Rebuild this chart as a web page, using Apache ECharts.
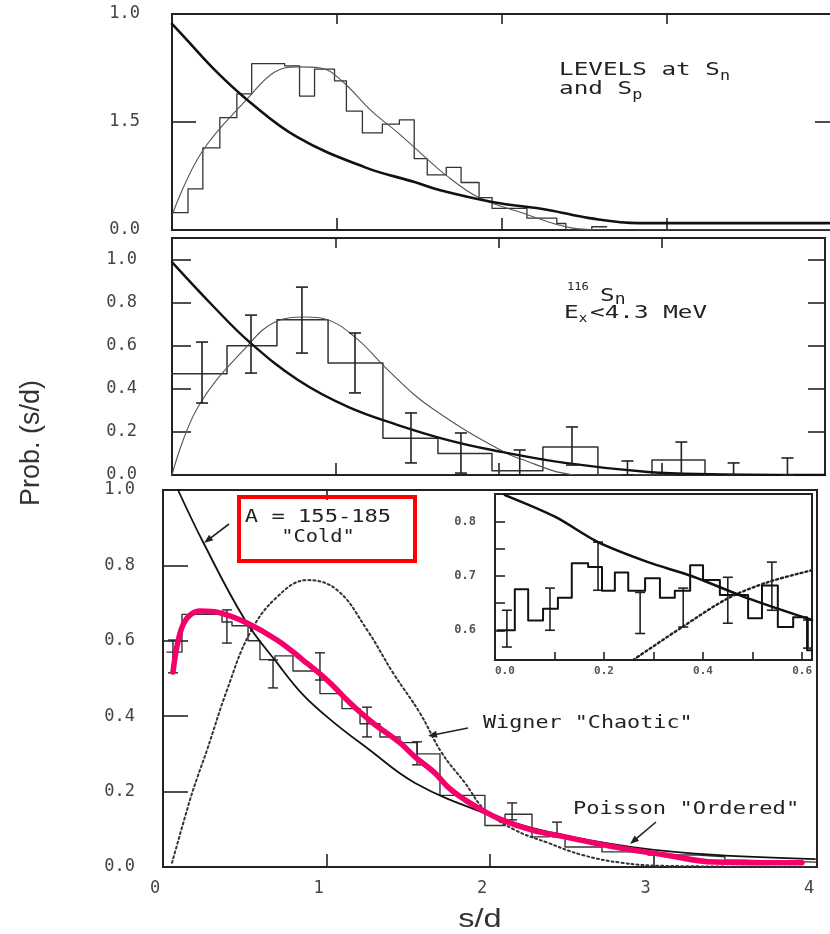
<!DOCTYPE html>
<html>
<head>
<meta charset="utf-8">
<script src="https://cdn.jsdelivr.net/npm/echarts@6/dist/echarts.min.js"></script>
<style>html,body{margin:0;padding:0;background:#fff}#c{width:830px;height:934px}</style>
</head>
<body>
<div id="c"></div>
<script>
// ---------- Panel 1: LEVELS at Sn and Sp ----------
const p1HistEdges = [0, 0.097, 0.187, 0.29, 0.393, 0.483, 0.683, 0.773, 0.864, 0.985, 1.057, 1.154, 1.275, 1.378, 1.468, 1.547, 1.662, 1.752, 1.861, 1.94, 2.054, 2.151, 2.332, 2.387, 2.544, 2.634];
const p1HistVals = [0.08, 0.19, 0.38, 0.52, 0.63, 0.77, 0.76, 0.62, 0.745, 0.69, 0.55, 0.45, 0.49, 0.51, 0.33, 0.255, 0.29, 0.22, 0.15, 0.10, 0.10, 0.055, 0.03, 0.0, 0.015];
const p1PoissonX = [0, 0.09, 0.26, 0.46, 0.76, 1.17, 1.47, 1.62, 1.94, 2.28, 2.53, 2.83, 3.07, 3.5, 4.0];
const p1PoissonY = [0.954, 0.88, 0.74, 0.60, 0.43, 0.29, 0.222, 0.185, 0.13, 0.093, 0.055, 0.032, 0.032, 0.032, 0.032];
const p1WignerX = [0.006, 0.18, 0.46, 0.62, 0.76, 0.9, 1.03, 1.21, 1.37, 1.53, 1.65, 1.86, 2.12, 2.42, 2.63, 4.0];
const p1WignerY = [0.08, 0.36, 0.61, 0.73, 0.755, 0.75, 0.69, 0.55, 0.45, 0.34, 0.26, 0.15, 0.08, 0.01, 0.0, 0.0];
const p1YTicks = [0, 0.5, 1.0];
const p1YLabels = ['0.0', '1.5', '1.0'];

// ---------- Panel 2: 116Sn, Ex<4.3 MeV ----------
const p2HistEdges = [0, 0.337, 0.643, 0.956, 1.292, 1.629, 1.96, 2.272, 2.609, 2.94, 3.265, 4.0];
const p2HistVals = [0.47, 0.60, 0.72, 0.52, 0.17, 0.10, 0.02, 0.13, 0.0, 0.07, 0.0];
const p2ErrX = [0.184, 0.484, 0.796, 1.121, 1.464, 1.77, 2.13, 2.45, 2.79, 3.12, 3.44, 3.77];
const p2ErrLo = [0.334, 0.473, 0.566, 0.381, 0.056, 0.009, 0.0, 0.046, 0.0, 0.0, 0.0, 0.0];
const p2ErrHi = [0.617, 0.742, 0.872, 0.659, 0.288, 0.195, 0.116, 0.223, 0.065, 0.153, 0.056, 0.079];
const p2PoissonX = [0, 0.263, 0.478, 0.772, 1.078, 1.384, 1.691, 1.96, 2.407, 2.916, 3.3, 4.0];
const p2PoissonY = [0.988, 0.775, 0.615, 0.441, 0.316, 0.232, 0.162, 0.116, 0.056, 0.014, 0.004, 0.0];
const p2WignerX = [0, 0.159, 0.466, 0.631, 0.815, 0.937, 1.121, 1.305, 1.488, 1.593, 1.795, 1.979, 2.101, 2.51, 4.0];
const p2WignerY = [0, 0.316, 0.603, 0.71, 0.733, 0.724, 0.64, 0.501, 0.37, 0.31, 0.209, 0.13, 0.084, 0.0, 0.0];
const p2YTicks = [0, 0.2, 0.4, 0.6, 0.8, 1.0];
const p2YLabels = ['0.0', '0.2', '0.4', '0.6', '0.8', '1.0'];

// ---------- Panel 3: A = 155-185 "Cold" ----------
const p3HistEdges = [0.024, 0.116, 0.226, 0.361, 0.422, 0.52, 0.593, 0.685, 0.795, 0.96, 1.095, 1.205, 1.327, 1.45, 1.554, 1.694, 1.969, 2.092, 2.257, 2.355, 2.459, 2.685, 2.966, 3.272, 3.437, 3.547, 4.0];
const p3HistVals = [0.57, 0.67, 0.67, 0.65, 0.64, 0.60, 0.55, 0.56, 0.52, 0.46, 0.42, 0.38, 0.345, 0.33, 0.30, 0.19, 0.11, 0.14, 0.08, 0.085, 0.053, 0.04, 0.032, 0.027, 0.018, 0.013];
const p3ErrX = [0.061, 0.391, 0.673, 0.96, 1.248, 1.554, 2.135, 2.41];
const p3ErrLo = [0.515, 0.594, 0.475, 0.496, 0.345, 0.271, 0.125, 0.080];
const p3ErrHi = [0.602, 0.682, 0.549, 0.568, 0.424, 0.332, 0.170, 0.119];
const p3PoissonX = [0.092, 0.245, 0.502, 0.70, 0.86, 1.04, 1.25, 1.541, 1.969, 2.355, 2.869, 3.376, 3.988];
const p3PoissonY = [1.0, 0.862, 0.655, 0.54, 0.455, 0.385, 0.315, 0.223, 0.143, 0.093, 0.053, 0.032, 0.021];
const p3WignerX = [0.055, 0.165, 0.208, 0.269, 0.391, 0.532, 0.697, 0.881, 1.064, 1.248, 1.407, 1.572, 1.706, 1.847, 1.969, 2.153, 2.355, 2.563, 2.807, 3.07, 4.0];
const p3WignerY = [0.011, 0.178, 0.235, 0.31, 0.469, 0.621, 0.716, 0.761, 0.735, 0.629, 0.515, 0.408, 0.302, 0.223, 0.151, 0.098, 0.064, 0.032, 0.011, 0.003, 0.0];
const fitX = [0.061, 0.09, 0.125, 0.17, 0.226, 0.349, 0.514, 0.697, 0.856, 1.003, 1.144, 1.284, 1.45, 1.541, 1.664, 1.743, 1.847, 1.951, 2.073, 2.257, 2.459, 2.765, 3.07, 3.376, 3.682, 3.908];
const fitY = [0.517, 0.595, 0.645, 0.67, 0.679, 0.674, 0.647, 0.602, 0.549, 0.496, 0.435, 0.382, 0.329, 0.292, 0.249, 0.212, 0.178, 0.151, 0.125, 0.098, 0.080, 0.053, 0.032, 0.013, 0.011, 0.011];
const p3XTicks = [0, 1, 2, 3, 4];
const p3XLabels = ['0', '1', '2', '3', '4'];
const p3YTicks = [0, 0.2, 0.4, 0.6, 0.8, 1.0];
const p3YLabels = ['0.0', '0.2', '0.4', '0.6', '0.8', '1.0'];

// ---------- Inset ----------
const insHistEdges = [-0.015, 0.02, 0.047, 0.077, 0.107, 0.135, 0.168, 0.196, 0.222, 0.249, 0.283, 0.313, 0.343, 0.374, 0.4, 0.434, 0.461, 0.491, 0.519, 0.551, 0.582, 0.61, 0.62];
const insHistVals = [0.60, 0.676, 0.618, 0.64, 0.66, 0.724, 0.717, 0.673, 0.707, 0.673, 0.696, 0.66, 0.673, 0.72, 0.693, 0.665, 0.665, 0.622, 0.683, 0.606, 0.624, 0.563];
const insErrX = [0.004, 0.091, 0.188, 0.273, 0.36, 0.45, 0.539, 0.612];
const insErrLo = [0.569, 0.60, 0.674, 0.594, 0.606, 0.613, 0.637, 0.567];
const insErrHi = [0.637, 0.678, 0.763, 0.67, 0.678, 0.698, 0.726, 0.619];
const insPoissonX = [0.0, 0.101, 0.188, 0.289, 0.378, 0.491, 0.62];
const insPoissonY = [0.85, 0.81, 0.763, 0.726, 0.70, 0.659, 0.619];
const insWignerX = [0.259, 0.358, 0.45, 0.531, 0.62];
const insWignerY = [0.545, 0.606, 0.659, 0.689, 0.711];
const insXTicks = [0, 0.2, 0.4, 0.6];
const insXLabels = ['0.0', '0.2', '0.4', '0.6'];
const insYTicks = [0.6, 0.7, 0.8];
const insYLabels = ['0.6', '0.7', '0.8'];

// ---------- helpers ----------
const mono = '"DejaVu Sans Mono", monospace';
const ink = '#222';
function steps(edges, vals) {
  const d = [];
  for (let i = 0; i < vals.length; i++) { d.push([edges[i], vals[i]]); d.push([edges[i + 1], vals[i]]); }
  return d;
}
function pairs(xs, ys) { return xs.map((x, i) => [x, ys[i]]); }
function fmt(vals, texts) {
  return v => { const i = vals.findIndex(t => Math.abs(t - v) < 1e-6); return i >= 0 ? texts[i] : ''; };
}
function axis(gi, min, max, pos, ticks, len, labVals, labTexts, fs, margin, z, extraLabel) {
  return {
    type: 'value', gridIndex: gi, min: min, max: max, position: pos, z: z || 0,
    axisLine: { show: false, onZero: false }, splitLine: { show: false },
    axisTick: { show: ticks.length > 0, inside: true, length: len, customValues: ticks, lineStyle: { color: ink, width: 1.6 } },
    axisLabel: Object.assign({ show: labVals.length > 0, customValues: labVals, formatter: fmt(labVals, labTexts),
      fontFamily: mono, fontSize: fs, color: '#444', margin: margin }, extraLabel || {})
  };
}
function lineS(xi, yi, data, color, width, type, smooth, z) {
  return { type: 'line', xAxisIndex: xi, yAxisIndex: yi, data: data, showSymbol: false, symbol: 'none',
    smooth: smooth, silent: true, z: z || 2, clip: true,
    lineStyle: { color: color, width: width, type: type, cap: 'round', join: 'round' } };
}
function errS(xi, yi, xs, lo, hi, cap, width, z) {
  return {
    type: 'custom', xAxisIndex: xi, yAxisIndex: yi, z: z || 3, silent: true,
    data: xs.map((x, i) => [x, lo[i], hi[i]]),
    encode: { x: 0, y: [1, 2] },
    renderItem: function (params, api) {
      const x = api.value(0), a = api.coord([x, api.value(1)]), b = api.coord([x, api.value(2)]);
      const st = { stroke: ink, lineWidth: width };
      return { type: 'group', children: [
        { type: 'line', shape: { x1: a[0], y1: a[1], x2: b[0], y2: b[1] }, style: st },
        { type: 'line', shape: { x1: a[0] - cap, y1: a[1], x2: a[0] + cap, y2: a[1] }, style: st },
        { type: 'line', shape: { x1: b[0] - cap, y1: b[1], x2: b[0] + cap, y2: b[1] }, style: st }
      ] };
    }
  };
}
function arrow(x1, y1, x2, y2) {
  const dx = x2 - x1, dy = y2 - y1, L = Math.sqrt(dx * dx + dy * dy), ux = dx / L, uy = dy / L;
  const hl = 9, hw = 3.5;
  return [
    { type: 'line', z: 20, shape: { x1: x1, y1: y1, x2: x2 - ux * 4, y2: y2 - uy * 4 }, style: { stroke: ink, lineWidth: 1.6 } },
    { type: 'polygon', z: 20, shape: { points: [[x2, y2], [x2 - ux * hl - uy * hw, y2 - uy * hl + ux * hw], [x2 - ux * hl + uy * hw, y2 - uy * hl - ux * hw]] }, style: { fill: ink } }
  ];
}
function txt(x, y, s, fs, scale, align) {
  return { type: 'text', z: 21, x: x, y: y, scaleX: scale, style: { text: s, font: fs + 'px ' + mono, fill: ink, align: align || 'left', verticalAlign: 'middle' } };
}

const chart = echarts.init(document.getElementById('c'), null, { renderer: 'canvas' });
const gridBase = { show: true, borderColor: ink, borderWidth: 2, backgroundColor: 'transparent', containLabel: false, outerBoundsMode: 'none' };
const cw18 = 0.602 * 18 * 1.35; // advance of one 18px mono glyph at the used stretch

const option = {
  animation: false,
  backgroundColor: '#fff',
  grid: [
    Object.assign({}, gridBase, { left: 172, top: 14, width: 660, height: 216 }),
    Object.assign({}, gridBase, { left: 172, top: 238, width: 653, height: 237 }),
    Object.assign({}, gridBase, { left: 163, top: 490, width: 654, height: 377 }),
    Object.assign({}, gridBase, { left: 495, top: 494, width: 317, height: 166, show: false })
  ],
  xAxis: [
    axis(0, 0, 4, 'bottom', [1, 2, 3], 12, [], [], 16, 8),
    axis(0, 0, 4, 'top', [1, 2, 3], 10, [], [], 16, 8),
    axis(1, 0, 4, 'bottom', [1, 2, 3], 12, [], [], 16, 8),
    axis(1, 0, 4, 'top', [1, 2, 3], 10, [], [], 16, 8),
    axis(2, 0, 4, 'bottom', [1, 2, 3], 13, p3XTicks, p3XLabels, 17, 13, 0, { padding: [0, 16, 0, 0] }),
    axis(2, 0, 4, 'top', [1], 10, [], [], 16, 8),
    axis(3, -0.02, 0.62, 'bottom', [0.1, 0.2, 0.3, 0.4, 0.5, 0.6], 8, insXTicks, insXLabels, 11, 6, 12, { fontWeight: 'bold', color: '#555' })
  ],
  yAxis: [
    axis(0, 0, 1, 'left', [0.5], 24, p1YTicks, p1YLabels, 17, 32, 0, { padding: [4, 0, 0, 0] }),
    axis(0, 0, 1, 'right', [0.5], 17, [], [], 16, 8),
    axis(1, 0, 1.1, 'left', [0.2, 0.4, 0.6, 0.8, 1.0], 19, p2YTicks, p2YLabels, 17, 35),
    axis(1, 0, 1.1, 'right', [0.2, 0.4, 0.6, 0.8, 1.0], 17, [], [], 16, 8),
    axis(2, 0, 1, 'left', [0.2, 0.4, 0.6, 0.8], 25, p3YTicks, p3YLabels, 17, 28),
    axis(3, 0.545, 0.852, 'left', [0.6, 0.65, 0.7, 0.75, 0.8], 10, insYTicks, insYLabels, 12, 19, 12, { fontWeight: 'bold', color: '#555' })
  ],
  series: [
    // panel 1
    lineS(0, 0, steps(p1HistEdges, p1HistVals), '#333', 1.3, 'solid', false),
    lineS(0, 0, pairs(p1WignerX, p1WignerY), '#555', 1.1, 'solid', 0.4),
    lineS(0, 0, pairs(p1PoissonX, p1PoissonY), '#111', 2.6, 'solid', 0.4),
    // panel 2
    lineS(2, 2, steps(p2HistEdges, p2HistVals), '#333', 1.5, 'solid', false),
    errS(2, 2, p2ErrX, p2ErrLo, p2ErrHi, 6, 1.6),
    lineS(2, 2, pairs(p2WignerX, p2WignerY), '#555', 1.1, 'solid', 0.4),
    lineS(2, 2, pairs(p2PoissonX, p2PoissonY), '#111', 2.4, 'solid', 0.4),
    // panel 3
    lineS(4, 4, steps(p3HistEdges, p3HistVals), '#333', 1.4, 'solid', false),
    errS(4, 4, p3ErrX, p3ErrLo, p3ErrHi, 5, 1.4),
    lineS(4, 4, pairs(p3WignerX, p3WignerY), '#333', 2, [2, 3], 0.4),
    lineS(4, 4, pairs(p3PoissonX, p3PoissonY), '#111', 1.8, 'solid', 0.4),
    lineS(4, 4, pairs(fitX, fitY), '#f5006b', 5.5, 'solid', 0.4, 4),
    // inset
    lineS(6, 5, steps(insHistEdges, insHistVals), '#111', 2, 'solid', false, 12),
    errS(6, 5, insErrX, insErrLo, insErrHi, 5, 1.6, 12),
    lineS(6, 5, pairs(insWignerX, insWignerY), '#222', 2.4, [2, 3], 0.3, 12),
    lineS(6, 5, pairs(insPoissonX, insPoissonY), '#111', 2.6, 'solid', 0.3, 12)
  ],
  graphic: [].concat([
    // inset frame (opaque)
    { type: 'rect', z: 8, shape: { x: 495, y: 494, width: 317, height: 166 }, style: { fill: '#fff', stroke: ink, lineWidth: 2 } },
    // red box
    { type: 'rect', z: 20, shape: { x: 239, y: 497, width: 176, height: 64 }, style: { fill: 'transparent', stroke: '#ff0000', lineWidth: 4 } },
    txt(318, 518, 'A = 155-185', 17, 1.3, 'center'),
    txt(318, 538, '"Cold"', 17, 1.2, 'center'),
    // panel 1 label: LEVELS at Sn / and Sp
    txt(559, 70, 'LEVELS at S', 18, 1.35),
    txt(559 + 11 * cw18, 76, 'n', 14, 1.2),
    txt(559, 89, 'and S', 18, 1.35),
    txt(559 + 5 * cw18, 95, 'p', 14, 1.2),
    // panel 2 label: 116Sn / Ex<4.3 MeV
    txt(567, 287, '116', 11, 1.1),
    txt(600, 296, 'S', 18, 1.35),
    txt(600 + cw18, 300, 'n', 15, 1.2),
    txt(564, 313, 'E', 18, 1.35),
    txt(564 + cw18, 319, 'x', 12, 1.2),
    txt(590, 313, '<4.3 MeV', 18, 1.35),
    // panel 3 labels
    txt(483, 724, 'Wigner "Chaotic"', 17, 1.28),
    txt(573, 810, 'Poisson "Ordered"', 17, 1.3),
    // axis titles
    { type: 'text', z: 21, x: 32, y: 443, rotation: Math.PI / 2, style: { text: 'Prob. (s/d)', font: '27px "Liberation Sans", Arial, sans-serif', fill: '#333', align: 'center', verticalAlign: 'middle' } },
    { type: 'text', z: 21, x: 480, y: 920, scaleX: 1.3, style: { text: 's/d', font: '25px "Liberation Sans", Arial, sans-serif', fill: '#333', align: 'center', verticalAlign: 'middle' } }
  ], arrow(468, 728, 428, 736), arrow(656, 822, 630, 844), arrow(229, 524, 204, 543))
};
chart.setOption(option);
</script>
</body>
</html>
